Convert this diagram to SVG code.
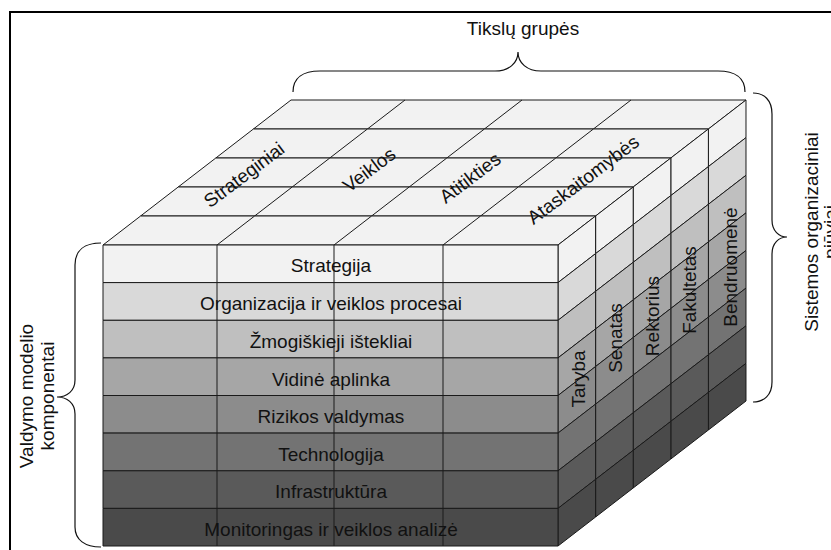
<svg xmlns="http://www.w3.org/2000/svg" width="831" height="550" viewBox="0 0 831 550">
  <style>
    .e{stroke:#1a1a1a;stroke-width:1;stroke-linejoin:round}
    .top{fill:#f2f2f2}
    .r0{fill:#f2f2f2}.r1{fill:#d9d9d9}.r2{fill:#bfbfbf}.r3{fill:#a6a6a6}
    .r4{fill:#8c8c8c}.r5{fill:#737373}.r6{fill:#5a5a5a}.r7{fill:#4a4a4a}
    .t{font-family:"Liberation Sans",Arial,sans-serif;font-size:19px;fill:#111;text-anchor:middle}
    .b{fill:none;stroke:#111;stroke-width:1.2}
  </style>
  <defs>
    <!-- one depth layer: top face and right face, drawn at the front position -->
    <g id="slab" class="e">
      <polygon class="top" points="103,245 558,245 595.6,216 140.6,216"/>
      <line x1="217" y1="245" x2="254.6" y2="216"/>
      <line x1="334" y1="245" x2="371.6" y2="216"/>
      <line x1="443" y1="245" x2="480.6" y2="216"/>
      <polygon class="r0" points="558,245 595.6,216 595.6,253.6 558,282.6"/>
      <polygon class="r1" points="558,282.6 595.6,253.6 595.6,291.3 558,320.3"/>
      <polygon class="r2" points="558,320.3 595.6,291.3 595.6,328.9 558,357.9"/>
      <polygon class="r3" points="558,357.9 595.6,328.9 595.6,366.5 558,395.5"/>
      <polygon class="r4" points="558,395.5 595.6,366.5 595.6,404.1 558,433.1"/>
      <polygon class="r5" points="558,433.1 595.6,404.1 595.6,441.8 558,470.8"/>
      <polygon class="r6" points="558,470.8 595.6,441.8 595.6,479.4 558,508.4"/>
      <polygon class="r7" points="558,508.4 595.6,479.4 595.6,517 558,546"/>
    </g>
  </defs>

  <rect width="831" height="550" fill="#fff"/>
  <rect x="10" y="12" width="900" height="620" fill="none" stroke="#000" stroke-width="2"/>

  <!-- block of layers, back to front -->
  <g id="cube">
    <use href="#slab" transform="translate(150.4,-116)"/>
    <use href="#slab" transform="translate(112.8,-87)"/>
    <use href="#slab" transform="translate(75.2,-58)"/>
    <use href="#slab" transform="translate(37.6,-29)"/>
    <use href="#slab"/>
    <g id="front" class="e">
      <rect class="r0" x="103" y="245" width="455" height="37.6"/>
      <rect class="r1" x="103" y="282.6" width="455" height="37.7"/>
      <rect class="r2" x="103" y="320.3" width="455" height="37.6"/>
      <rect class="r3" x="103" y="357.9" width="455" height="37.6"/>
      <rect class="r4" x="103" y="395.5" width="455" height="37.6"/>
      <rect class="r5" x="103" y="433.1" width="455" height="37.7"/>
      <rect class="r6" x="103" y="470.8" width="455" height="37.6"/>
      <rect class="r7" x="103" y="508.4" width="455" height="37.6"/>
      <line x1="217" y1="245" x2="217" y2="546"/>
      <line x1="334" y1="245" x2="334" y2="546"/>
      <line x1="443" y1="245" x2="443" y2="546"/>
    </g>
  </g>

  <!-- component rows -->
  <g id="rows" class="t">
    <text x="331" y="272">Strategija</text>
    <text x="331" y="310">Organizacija ir veiklos procesai</text>
    <text x="331" y="347.5">Žmogiškieji ištekliai</text>
    <text x="331" y="385.5">Vidinė aplinka</text>
    <text x="331" y="423">Rizikos valdymas</text>
    <text x="331" y="460.5">Technologija</text>
    <text x="331" y="498">Infrastruktūra</text>
    <text x="331" y="536">Monitoringas ir veiklos analizė</text>
  </g>

  <!-- target groups on the top face -->
  <g id="groups" class="t">
    <text transform="translate(248,180) rotate(-37)">Strateginiai</text>
    <text transform="translate(373,175) rotate(-37)">Veiklos</text>
    <text transform="translate(474,183) rotate(-37)">Atitikties</text>
    <text transform="translate(587,185) rotate(-37)">Ataskaitomybės</text>
  </g>

  <!-- organisational levels on the right face -->
  <g id="levels" class="t">
    <text transform="translate(585,379) rotate(-90)">Taryba</text>
    <text transform="translate(622,338) rotate(-90)">Senatas</text>
    <text transform="translate(659,316) rotate(-90)">Rektorius</text>
    <text transform="translate(696,290) rotate(-90)">Fakultetas</text>
    <text transform="translate(737,267) rotate(-90)">Bendruomenė</text>
  </g>

  <!-- braces -->
  <g id="braces" class="b">
    <path d="M293,92 C293,78 303,71 320,71 L495,71 C509,71 518,63 518,52 C518,63 527,71 541,71 L718,71 C735,71 745,78 745,92"/>
    <path d="M101,243 C85,243 75,250 75,265 L75,380 C75,391 67,397 57,397 C67,397 75,403 75,414 L75,527 C75,540 85,547 101,547"/>
    <path d="M753,93 C764,93 772,100 772,114 L772,220 C772,231 779,237 787,237 C779,237 772,243 772,254 L772,382 C772,395 764,402 753,402"/>
  </g>

  <!-- axis titles -->
  <g id="titles" class="t">
    <text x="523" y="35">Tikslų grupės</text>
    <text transform="translate(33,396) rotate(-90)">Valdymo modelio</text>
    <text transform="translate(54,396) rotate(-90)">komponentai</text>
    <text transform="translate(818,232) rotate(-90)">Sistemos organizaciniai</text>
    <text transform="translate(837,232) rotate(-90)">pjūviai</text>
  </g>
</svg>
